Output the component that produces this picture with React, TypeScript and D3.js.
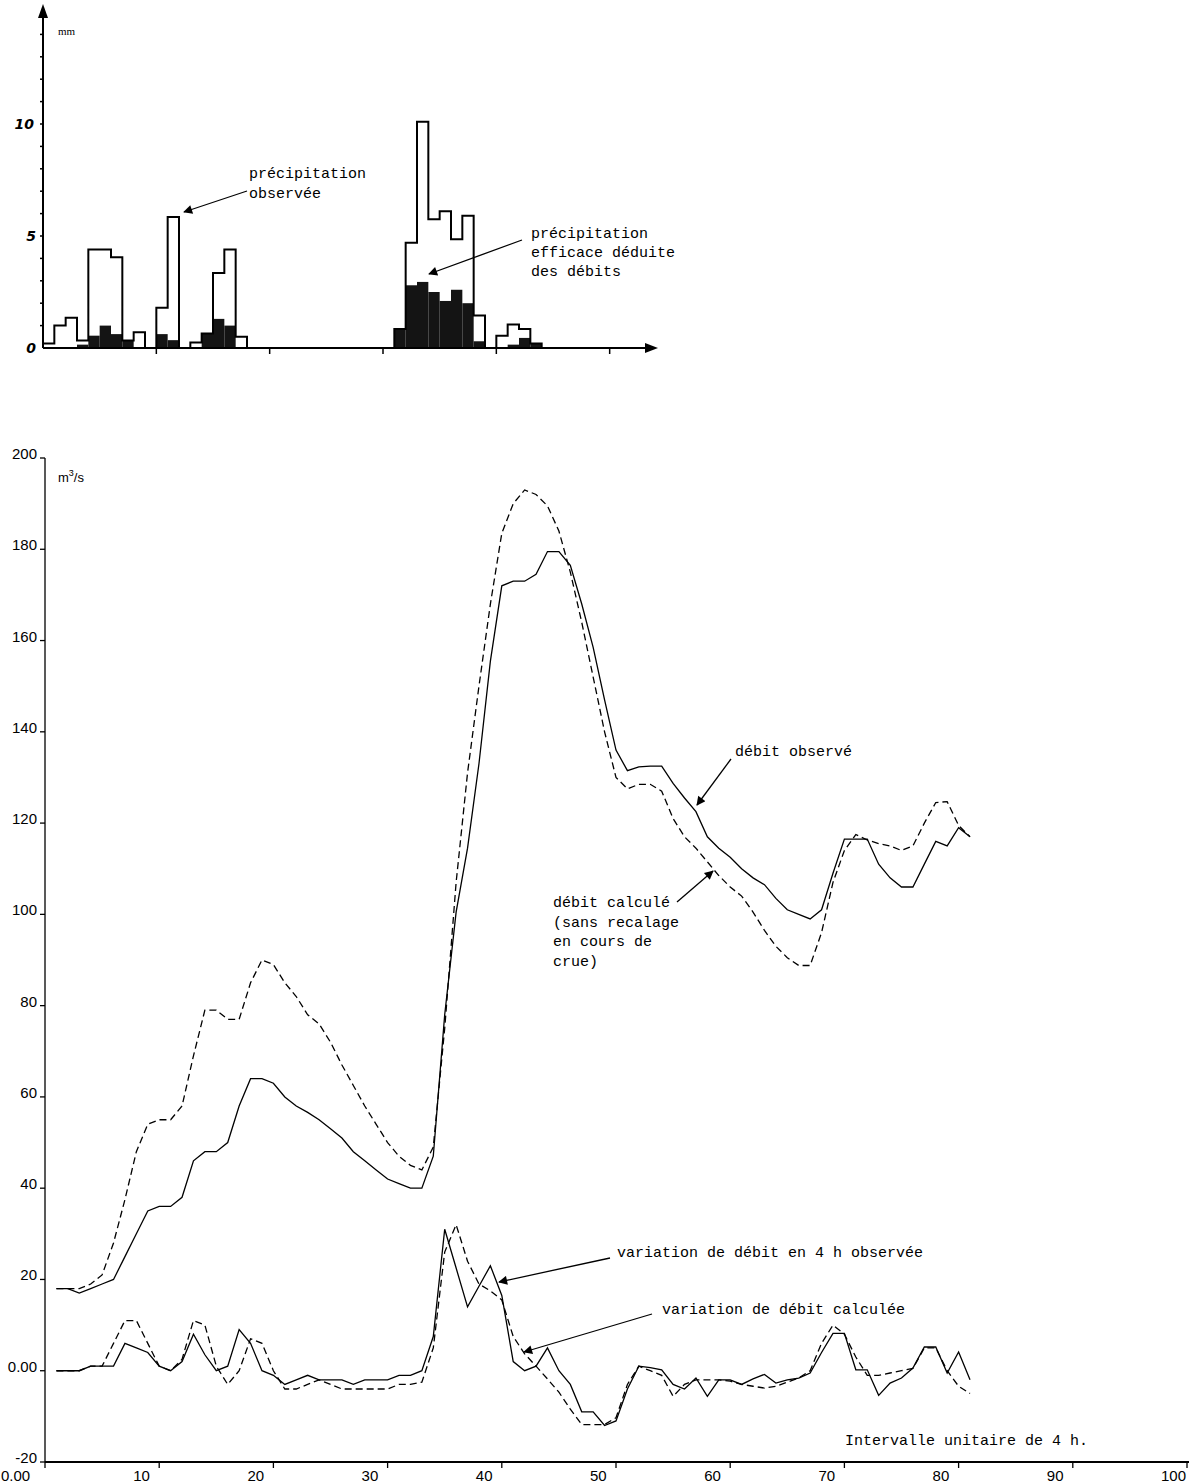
import React from 'react';
import * as d3 from 'd3';

const W = 1201;
const H = 1484;

// ---------- top panel: rainfall per 4 h interval (mm), index = interval 0..43
const rainObserved = [
  0.2, 1.0, 1.35, 0.33, 4.4, 4.4, 4.05, 0.33, 0.7, 0, 1.8, 5.85, 0, 0.25, 0.65, 3.35, 4.4, 0.5,
  0, 0, 0, 0, 0, 0, 0, 0, 0, 0, 0, 0, 0,
  0.85, 4.7, 10.1, 5.75, 6.1, 4.85, 5.9, 1.45, 0, 0.55, 1.05, 0.85, 0.2,
];
const rainEffective = [
  0, 0, 0, 0.15, 0.55, 1.0, 0.62, 0.33, 0, 0, 0.62, 0.35, 0, 0, 0.65, 1.3, 1.0, 0,
  0, 0, 0, 0, 0, 0, 0, 0, 0, 0, 0, 0, 0,
  0.85, 2.8, 2.95, 2.5, 2.1, 2.6, 2.0, 0.3, 0, 0, 0.15, 0.45, 0.2,
];
const rainTicks = [0, 5, 10];
const rainTickLabels = ['0', '5', '10'];

// ---------- bottom panel: discharges (m3/s), intervals 1..81
const flowObserved = [
  18, 18, 17, 18, 19, 20, 25, 30, 35, 36, 36, 38, 46, 48, 48, 50, 58, 64, 64, 63,
  60, 58, 56.6, 55, 53, 51, 48, 46, 44, 42, 41, 40, 40, 47, 78, 100.5, 114.5, 133, 155.5, 172,
  173, 173, 174.5, 179.5, 179.5, 176.5, 168, 158.5, 147, 136, 131.5, 132.3, 132.5, 132.5, 128.7, 125.5, 122.5, 117, 114.5, 112.5,
  110, 108, 106.5, 103.5, 101, 100, 99, 101, 109, 116.5, 116.5, 116.5, 111, 108, 106, 106, 111, 116, 115, 119,
  117,
];
const flowComputed = [
  18, 18, 18, 19, 21, 28, 37.5, 48, 54, 55, 55, 58, 69, 79, 79, 77, 77, 85, 90, 89,
  85, 82, 78, 76, 72, 67, 62.5, 58, 54, 50, 47, 45, 44, 49, 75, 107, 131, 150, 168, 183.5,
  190, 193, 192, 189.5, 184, 175, 164, 152, 140, 130, 127.5, 128.5, 128.5, 127, 121, 117, 114.5, 111.5, 108.5, 106,
  104, 100.5, 96.5, 93, 90.5, 88.8, 88.8, 96, 107, 114, 117.5, 116.3, 115.5, 115, 114, 115, 120, 124.5, 124.7, 119.5,
  117,
];
const variationObserved = [
  0, 0, 0, 1, 1, 1, 6, 5, 4, 1, 0, 2, 8, 3.5, 0, 1, 9, 6, 0, -1,
  -3, -2, -1, -2, -2, -2, -3, -2, -2, -2, -1, -1, 0, 7.5, 31, 22.5, 14, 18.5, 23, 16.5,
  2, 0, 1, 5, 0, -3, -9, -9, -12, -11, -4, 1, 0.7, 0.2, -3, -4, -1.6, -5.6, -2, -2,
  -3, -1.8, -0.8, -2.7, -2, -1.6, -0.5, 4, 8.2, 8.2, 0.2, 0.2, -5.4, -2.7, -1.6, 0.6, 5.2, 5.2, -0.5, 4.1,
  -2,
];
const variationComputed = [
  0, 0, 0, 1, 1, 6, 11, 11, 6, 1, 0, 2.5, 11, 10, 1, -3, 0, 7, 6, 0,
  -4, -4, -3, -2, -3, -4, -4, -4, -4, -4, -3, -3, -2.5, 5, 26, 32, 24, 19, 17.5, 15.5,
  7.5, 3.7, 1, -1.8, -4.7, -8.4, -11.8, -11.8, -11.8, -10.3, -3, 1, 0, -1, -5.6, -3, -2, -2, -2, -2.3,
  -3, -3.4, -3.8, -3.4, -2.5, -1.6, 0, 6, 10, 8, 3, -1, -1, -0.5, 0, 0.5, 5, 5, 0, -3.4,
  -5,
];
const yTicks = [-20, 0, 20, 40, 60, 80, 100, 120, 140, 160, 180, 200];
const yTickLabels = ['-20', '0.00', '20', '40', '60', '80', '100', '120', '140', '160', '180', '200'];
const xTicks = [0, 10, 20, 30, 40, 50, 60, 70, 80, 90, 100];
const xTickLabels = ['0.00', '10', '20', '30', '40', '50', '60', '70', '80', '90', '100'];

const MONO = '"Liberation Mono", "DejaVu Sans Mono", monospace';
const SANS = '"Liberation Sans", Arial, sans-serif';

export default function App() {
  // top scales
  const xT = d3.scaleLinear().domain([0, 54]).range([43, 655]);
  const yT = d3.scaleLinear().domain([0, 10]).range([348, 124]);

  // bottom scales
  const xB = d3.scaleLinear().domain([0, 100]).range([45, 1187]);
  const yB = d3.scaleLinear().domain([-20, 200]).range([1462, 458]);

  const stepPts: [number, number][] = [[0, 0]];
  rainObserved.forEach((v, i) => stepPts.push([i, v]));
  stepPts.push([rainObserved.length, 0]);
  const stepLine = d3
    .line<[number, number]>()
    .x((d) => xT(d[0]))
    .y((d) => yT(d[1]))
    .curve(d3.curveStepAfter);

  const line = d3
    .line<number>()
    .x((_, i) => xB(i + 1))
    .y((d) => yB(d));

  const arrow = (x1: number, y1: number, x2: number, y2: number, key: string) => (
    <line key={key} x1={x1} y1={y1} x2={x2} y2={y2} stroke="#000" strokeWidth={1.3} markerEnd="url(#ah)" />
  );

  return (
    <svg
      width={W}
      height={H}
      viewBox={`0 0 ${W} ${H}`}
      style={{ position: 'absolute', left: 0, top: 0, background: '#fff', display: 'block' }}
    >
      <defs>
        <marker id="ah" viewBox="0 0 10 10" refX="9" refY="5" markerWidth="13" markerHeight="9" markerUnits="userSpaceOnUse" orient="auto">
          <path d="M0,0 L10,5 L0,10 z" fill="#000" />
        </marker>
      </defs>
      <rect x={0} y={0} width={W} height={H} fill="#fff" />

      {/* ================= TOP PANEL ================= */}
      {rainEffective.map((v, i) =>
        v > 0 ? (
          <rect key={'pe' + i} x={xT(i)} y={yT(v)} width={xT(i + 1) - xT(i)} height={yT(0) - yT(v)} fill="#141414" />
        ) : null
      )}
      <path d={stepLine(stepPts) || ''} fill="none" stroke="#000" strokeWidth={2} />

      {/* axes */}
      <line x1={xT(0)} y1={yT(0)} x2={650} y2={yT(0)} stroke="#000" strokeWidth={2} />
      <path d={`M658,${yT(0)} L645,${yT(0) - 5} L645,${yT(0) + 5} z`} fill="#000" />
      <line x1={xT(0)} y1={yT(0)} x2={xT(0)} y2={14} stroke="#000" strokeWidth={2} />
      <path d={`M${xT(0)},4 L${xT(0) - 5},18 L${xT(0) + 5},18 z`} fill="#000" />
      {d3.range(1, 15).map((m) => (
        <line key={'mt' + m} x1={xT(0) - 3} y1={yT(m)} x2={xT(0)} y2={yT(m)} stroke="#000" strokeWidth={1.5} />
      ))}
      {[10, 20, 30, 40, 50].map((t) => (
        <line key={'tt' + t} x1={xT(t)} y1={yT(0)} x2={xT(t)} y2={yT(0) + 6} stroke="#000" strokeWidth={1.5} />
      ))}
      {rainTicks.map((v, i) => (
        <text
          key={'rt' + v}
          x={36 - (i === 2 ? 2 : 0)}
          y={yT(v) + 5}
          textAnchor="end"
          fontFamily='"DejaVu Sans", sans-serif'
          fontWeight="bold"
          fontStyle="italic"
          fontSize={14}
        >
          {rainTickLabels[i]}
        </text>
      ))}
      <text x={58} y={35} fontFamily='"Liberation Serif", serif' fontSize={11}>
        mm
      </text>

      {/* top annotations */}
      <text x={249} y={178} fontFamily={MONO} fontSize={15}>précipitation</text>
      <text x={249} y={198} fontFamily={MONO} fontSize={15}>observée</text>
      {arrow(247, 191, 184, 212, 'a1')}

      <text x={531} y={238} fontFamily={MONO} fontSize={15}>précipitation</text>
      <text x={531} y={257} fontFamily={MONO} fontSize={15}>efficace déduite</text>
      <text x={531} y={276} fontFamily={MONO} fontSize={15}>des débits</text>
      {arrow(522, 240, 429, 274, 'a2')}

      {/* ================= BOTTOM PANEL ================= */}
      {/* axes */}
      <line x1={xB(0)} y1={yB(200)} x2={xB(0)} y2={yB(-20)} stroke="#222" strokeWidth={1.5} />
      <line x1={xB(0)} y1={yB(-20)} x2={xB(100) + 2} y2={yB(-20)} stroke="#000" strokeWidth={2} />
      {yTicks.map((v, i) => (
        <g key={'yt' + v}>
          <line x1={xB(0) - 5} y1={yB(v)} x2={xB(0)} y2={yB(v)} stroke="#000" strokeWidth={1.3} />
          <text x={37} y={yB(v) + 1} textAnchor="end" fontFamily={SANS} fontSize={15}>
            {yTickLabels[i]}
          </text>
        </g>
      ))}
      {xTicks.map((v, i) => (
        <g key={'xt' + v}>
          <line x1={xB(v)} y1={yB(-20)} x2={xB(v)} y2={yB(-20) + 6} stroke="#000" strokeWidth={1.3} />
          <text x={v === 0 ? 1 : xB(v) - 26} y={1481} fontFamily={SANS} fontSize={15}>
            {xTickLabels[i]}
          </text>
        </g>
      ))}
      <text x={58} y={482} fontFamily={SANS} fontSize={13}>
        m<tspan dy={-6} fontSize={9}>3</tspan>
        <tspan dy={6}>/s</tspan>
      </text>

      {/* series */}
      <path d={line(flowObserved) || ''} fill="none" stroke="#000" strokeWidth={1.3} />
      <path d={line(flowComputed) || ''} fill="none" stroke="#000" strokeWidth={1.3} strokeDasharray="7,4" />
      <path d={line(variationObserved) || ''} fill="none" stroke="#000" strokeWidth={1.3} />
      <path d={line(variationComputed) || ''} fill="none" stroke="#000" strokeWidth={1.3} strokeDasharray="7,4" />

      {/* bottom annotations */}
      <text x={735} y={756} fontFamily={MONO} fontSize={15}>débit observé</text>
      {arrow(731, 759, 697, 805, 'a3')}

      <text x={553} y={907} fontFamily={MONO} fontSize={15}>débit calculé</text>
      <text x={553} y={927} fontFamily={MONO} fontSize={15}>(sans recalage</text>
      <text x={553} y={946} fontFamily={MONO} fontSize={15}>en cours de</text>
      <text x={553} y={966} fontFamily={MONO} fontSize={15}>crue)</text>
      {arrow(677, 902, 713, 871, 'a4')}

      <text x={617} y={1257} fontFamily={MONO} fontSize={15}>variation de débit en 4 h observée</text>
      {arrow(610, 1258, 499, 1282, 'a5')}

      <text x={662} y={1314} fontFamily={MONO} fontSize={15}>variation de débit calculée</text>
      {arrow(652, 1314, 524, 1352, 'a6')}

      <text x={845} y={1445} fontFamily={MONO} fontSize={15}>Intervalle unitaire de 4 h.</text>
    </svg>
  );
}
